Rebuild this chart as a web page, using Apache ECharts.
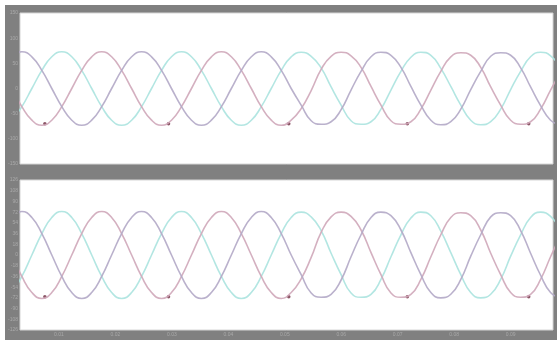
<!DOCTYPE html>
<html>
<head>
<meta charset="utf-8">
<script src="https://cdn.jsdelivr.net/npm/echarts@6/dist/echarts.min.js"></script>
<style>
  html, body { margin: 0; padding: 0; background: #ffffff; }
  #chart { position: absolute; left: 5px; top: 5px; width: 552px; height: 335px; }
</style>
</head>
<body>
<div id="chart"></div>
<script>
// Sample instants (ms)
const timeMs = [1.67, 3.43, 5.20, 6.97, 8.73, 10.50, 12.27, 14.03, 15.80, 17.57,
  19.33, 21.10, 22.87, 24.63, 26.40, 28.17, 29.93, 31.70, 33.47, 35.23,
  37.00, 38.77, 40.53, 42.30, 44.07, 45.83, 47.60, 49.37, 51.13, 52.90,
  54.67, 56.43, 58.20, 59.97, 61.73, 63.50, 65.27, 67.03, 68.80, 70.57,
  72.33, 74.10, 75.87, 77.63, 79.40, 81.17, 82.93, 84.70, 86.47, 88.23,
  90.00, 91.77, 93.53, 95.30, 97.07, 98.83];

// Phase A
const phaseA = [-63, -36, 0, 36, 63, 73, 63, 36, 0, -36,
  -63, -73, -63, -36, 0, 36, 63, 73, 63, 36,
  0, -36, -63, -73, -63, -36, 0, 36, 63, 72,
  64, 41, 3, -33, -64, -71, -66, -41, -3, 34,
  62, 72, 66, 40, 4, -33, -63, -72, -66, -41,
  -2, 34, 63, 72, 65, 41];

// Phase B
const phaseB = [0, -36, -63, -73, -63, -36, 0, 36, 63, 73,
  63, 36, 0, -36, -63, -73, -63, -36, 0, 36,
  63, 73, 63, 36, 0, -36, -63, -73, -63, -40,
  -4, 38, 64, 72, 65, 42, 4, -33, -64, -71,
  -66, -41, -3, 34, 63, 71, 66, 42, 3, -33,
  -63, -71, -66, -41, -3, 33];

// Phase C
const phaseC = [63, 73, 63, 36, 0, -36, -63, -73, -63, -36,
  0, 36, 63, 73, 63, 36, 0, -36, -63, -73,
  -63, -36, 0, 36, 63, 73, 63, 36, 0, -33,
  -64, -71, -66, -42, -3, 34, 63, 72, 66, 42,
  4, -33, -63, -72, -66, -41, -2, 34, 64, 71,
  66, 41, 3, -34, -63, -72];

// Sharp notches near the phase B minima
const notchTimes = [7.5, 29.4, 50.7, 71.7, 93.2];
const notchValues = [-70, -70, -70, -70, -70];

// Axis ticks
const timeTicks = [10, 20, 30, 40, 50, 60, 70, 80, 90];

const pairs = (xs, ys) => xs.map((x, i) => [x, ys[i]]);

const colA = '#abe3df';
const colB = '#cfa7b9';
const colC = '#b3a9c6';

function waveSeries(name, values, color, idx) {
  return {
    name: name,
    type: 'line',
    xAxisIndex: idx,
    yAxisIndex: idx,
    data: pairs(timeMs, values),
    smooth: 0.5,
    showSymbol: false,
    symbol: 'none',
    lineStyle: { color: color, width: 1.6, opacity: 0.9 },
    itemStyle: { color: color },
    animation: false
  };
}

function notchSeries(idx) {
  return {
    type: 'scatter',
    xAxisIndex: idx,
    yAxisIndex: idx,
    data: pairs(notchTimes, notchValues),
    symbolSize: 3.5,
    itemStyle: { color: '#6e2c40' },
    animation: false
  };
}

const labelStyle = { color: '#a9a9a9', fontSize: 5, margin: 2 };

const chart = echarts.init(document.getElementById('chart'), null, { renderer: 'canvas' });
chart.setOption({
  backgroundColor: '#808080',
  animation: false,
  grid: [
    { left: 13, top: 8, width: 535, height: 151, show: true, backgroundColor: '#ffffff', borderColor: '#d6d6d6', borderWidth: 1 },
    { left: 13, top: 175, width: 535, height: 150, show: true, backgroundColor: '#ffffff', borderColor: '#d6d6d6', borderWidth: 1 }
  ],
  xAxis: [
    {
      type: 'value', gridIndex: 0, min: 3.1, max: 97.5, position: 'bottom',
      axisLine: { show: false, onZero: false }, axisTick: { show: false }, splitLine: { show: false },
      axisLabel: { show: false }
    },
    {
      type: 'value', gridIndex: 1, min: 3.1, max: 97.5, position: 'bottom',
      axisLine: { show: false, onZero: false },
      axisTick: { show: false },
      splitLine: { show: false },
      axisLabel: Object.assign({ customValues: timeTicks, formatter: v => (v / 1000).toFixed(2) }, labelStyle)
    }
  ],
  yAxis: [
    {
      type: 'value', gridIndex: 0, min: -150, max: 150, interval: 50,
      axisLine: { show: false }, axisTick: { show: false }, splitLine: { show: false },
      axisLabel: labelStyle
    },
    {
      type: 'value', gridIndex: 1, min: -126, max: 126, interval: 18,
      axisLine: { show: false }, axisTick: { show: false }, splitLine: { show: false },
      axisLabel: labelStyle
    }
  ],
  series: [
    waveSeries('A', phaseA, colA, 0),
    waveSeries('B', phaseB, colB, 0),
    waveSeries('C', phaseC, colC, 0),
    notchSeries(0),
    waveSeries('A', phaseA, colA, 1),
    waveSeries('B', phaseB, colB, 1),
    waveSeries('C', phaseC, colC, 1),
    notchSeries(1)
  ]
});
</script>
</body>
</html>
